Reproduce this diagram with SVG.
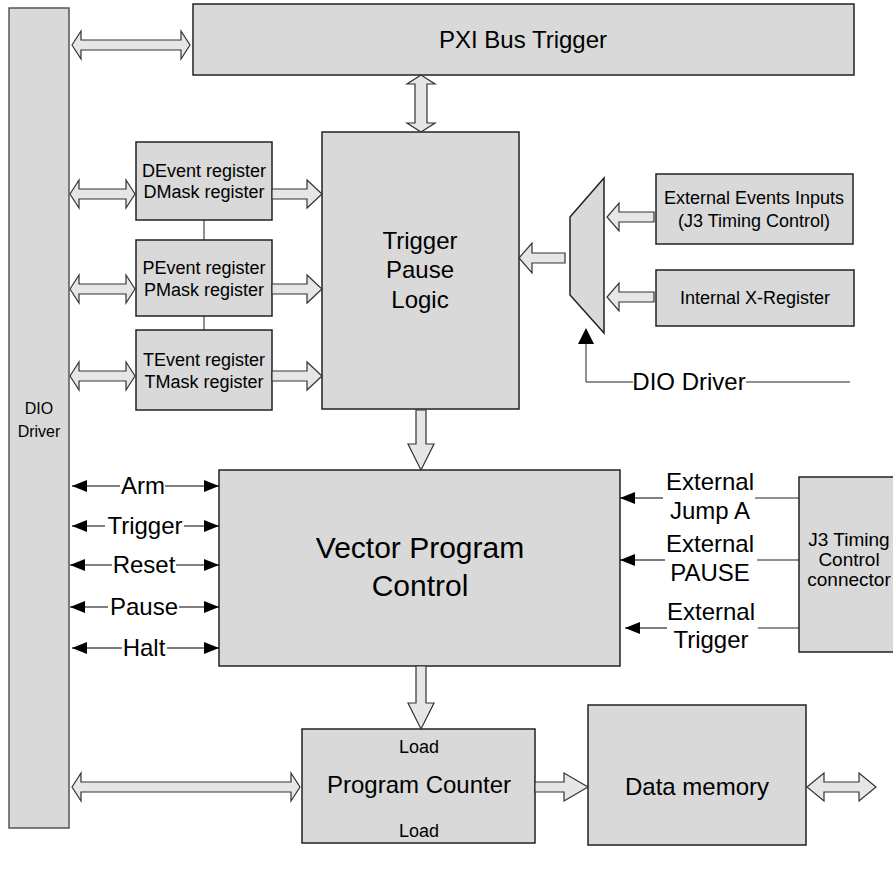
<svg xmlns="http://www.w3.org/2000/svg" width="893" height="869" viewBox="0 0 893 869">
  <defs>
    <style>
      .box { fill: #d9d9d9; stroke: #222; stroke-width: 1.5; }
      .bar { fill: #d9d9d9; stroke: #555; stroke-width: 1.5; }
      .bus { fill: #e6e6e6; stroke: #333; stroke-width: 1.2; stroke-linejoin: miter; }
      .sig { fill: none; stroke: #000; stroke-width: 1.2; }
      .thin { fill: none; stroke: #222; stroke-width: 1; }
      text { font-family: "Liberation Sans", Arial, sans-serif; fill: #000; text-anchor: middle; }
      .t24 { font-size: 24px; }
      .t18 { font-size: 18px; }
      .t30 { font-size: 30px; }
    </style>
    <marker id="tip" markerUnits="userSpaceOnUse" markerWidth="15" markerHeight="12" refX="15" refY="6" orient="auto-start-reverse">
      <path d="M0,0 L15,6 L0,12 z" fill="#000"/>
    </marker>
  </defs>

  <!-- blocks -->
  <g id="dio-driver">
    <rect class="bar" x="9" y="8" width="60" height="820"/>
    <text x="39" y="414" style="font-size:16px">DIO</text>
    <text x="39" y="437" style="font-size:16px">Driver</text>
  </g>

  <g id="pxi-bus-trigger">
    <rect class="box" x="193" y="4" width="661" height="71"/>
    <text class="t24" x="523" y="48">PXI Bus Trigger</text>
  </g>

  <g id="devent-register">
    <rect class="box" x="136" y="142" width="136" height="78"/>
    <text class="t18" x="204" y="177">DEvent register</text>
    <text class="t18" x="204" y="198">DMask register</text>
  </g>

  <g id="pevent-register">
    <rect class="box" x="136" y="240" width="136" height="76"/>
    <text class="t18" x="204" y="274">PEvent register</text>
    <text class="t18" x="204" y="296">PMask register</text>
  </g>

  <g id="tevent-register">
    <rect class="box" x="136" y="330" width="136" height="80"/>
    <text class="t18" x="204" y="366">TEvent register</text>
    <text class="t18" x="204" y="388">TMask register</text>
  </g>

  <g id="trigger-pause-logic">
    <rect class="box" x="322" y="132" width="197" height="277"/>
    <text class="t24" x="420" y="249">Trigger</text>
    <text class="t24" x="420" y="278">Pause</text>
    <text class="t24" x="420" y="308">Logic</text>
  </g>

  <g id="event-mux">
    <polygon class="box" points="570,217 604,178 604,333 570,295"/>
  </g>

  <g id="external-events-inputs">
    <rect class="box" x="656" y="174" width="197" height="70"/>
    <text class="t18" x="754" y="204">External Events Inputs</text>
    <text class="t18" x="754" y="227">(J3 Timing Control)</text>
  </g>

  <g id="internal-x-register">
    <rect class="box" x="656" y="270" width="198" height="56"/>
    <text class="t18" x="755" y="304">Internal X-Register</text>
  </g>

  <g id="vector-program-control">
    <rect class="box" x="219" y="470" width="401" height="196"/>
    <text class="t30" x="420" y="558">Vector Program</text>
    <text class="t30" x="420" y="596">Control</text>
  </g>

  <g id="j3-timing-connector">
    <rect class="box" x="799" y="477" width="100" height="175"/>
    <text x="849" y="546" style="font-size:19px">J3 Timing</text>
    <text x="849" y="566" style="font-size:19px">Control</text>
    <text x="849" y="586" style="font-size:19px">connector</text>
  </g>

  <g id="program-counter">
    <rect class="box" x="302" y="729" width="233" height="114"/>
    <text class="t18" x="419" y="753">Load</text>
    <text class="t24" x="419" y="793">Program Counter</text>
    <text class="t18" x="419" y="837">Load</text>
  </g>

  <g id="data-memory">
    <rect class="box" x="588" y="705" width="218" height="140"/>
    <text class="t24" x="697" y="795">Data memory</text>
  </g>

  <!-- connectors -->
  <g id="connectors">
    <!-- wide bus arrows -->
    <polygon class="bus" points="72,45 81,31 81,40 181,40 181,31 190,45 181,59 181,50 81,50 81,59"/>
    <polygon class="bus" points="421,75 435,84 427,84 427,123 435,123 421,132 407,123 415,123 415,84 407,84"/>
    <polygon class="bus" points="70,194 79,180 79,189 126,189 126,180 135,194 126,208 126,199 79,199 79,208"/>
    <polygon class="bus" points="70,289 79,275 79,284 126,284 126,275 135,289 126,303 126,294 79,294 79,303"/>
    <polygon class="bus" points="70,376 79,362 79,371 126,371 126,362 135,376 126,390 126,381 79,381 79,390"/>
    <polygon class="bus" points="272,189 307,189 307,180 322,194 307,208 307,199 272,199"/>
    <polygon class="bus" points="272,284 307,284 307,275 322,289 307,303 307,294 272,294"/>
    <polygon class="bus" points="272,371 307,371 307,362 322,376 307,390 307,381 272,381"/>
    <polygon class="bus" points="654,212 619,212 619,203 607,217 619,231 619,222 654,222"/>
    <polygon class="bus" points="654,292 619,292 619,283 607,297 619,311 619,302 654,302"/>
    <polygon class="bus" points="565,253 532,253 532,243 519,258 532,273 532,263 565,263"/>
    <polygon class="bus" points="416,410 426,410 426,444 434,444 421,470 408,444 416,444"/>
    <polygon class="bus" points="416,666 426,666 426,703 434,703 421,729 408,703 416,703"/>
    <polygon class="bus" points="72,787 81,773 81,782 291,782 291,773 300,787 291,801 291,792 81,792 81,801"/>
    <polygon class="bus" points="535,782 564,782 564,773 588,787 564,801 564,792 535,792"/>
    <polygon class="bus" points="807,787 824,773 824,782 859,782 859,773 876,787 859,801 859,792 824,792 824,801"/>

    <!-- register chain -->
    <line class="thin" x1="204" y1="220" x2="204" y2="240"/>
    <line class="thin" x1="204" y1="316" x2="204" y2="330"/>

    <!-- DIO Driver select line into the mux -->
    <polyline class="thin" points="633,382 586,382 586,343"/>
    <polygon points="586,328 578,344 594,344" fill="#000"/>
    <line class="thin" x1="746" y1="382" x2="850" y2="382"/>
    <text class="t24" x="689" y="390">DIO Driver</text>

    <!-- control signals between DIO Driver and Vector Program Control -->
    <line class="sig" x1="120" y1="486" x2="72" y2="486" marker-end="url(#tip)"/>
    <line class="sig" x1="165" y1="486" x2="219" y2="486" marker-end="url(#tip)"/>
    <text class="t24" x="143" y="494">Arm</text>

    <line class="sig" x1="105" y1="526" x2="72" y2="526" marker-end="url(#tip)"/>
    <line class="sig" x1="184" y1="526" x2="219" y2="526" marker-end="url(#tip)"/>
    <text class="t24" x="145" y="534">Trigger</text>

    <line class="sig" x1="112" y1="565" x2="70" y2="565" marker-end="url(#tip)"/>
    <line class="sig" x1="176" y1="565" x2="219" y2="565" marker-end="url(#tip)"/>
    <text class="t24" x="144" y="573">Reset</text>

    <line class="sig" x1="108" y1="607" x2="70" y2="607" marker-end="url(#tip)"/>
    <line class="sig" x1="179" y1="607" x2="219" y2="607" marker-end="url(#tip)"/>
    <text class="t24" x="144" y="615">Pause</text>

    <line class="sig" x1="122" y1="648" x2="72" y2="648" marker-end="url(#tip)"/>
    <line class="sig" x1="167" y1="648" x2="219" y2="648" marker-end="url(#tip)"/>
    <text class="t24" x="144" y="656">Halt</text>

    <!-- external inputs from the J3 connector -->
    <line class="sig" x1="663" y1="498" x2="620" y2="498" marker-end="url(#tip)"/>
    <line class="thin" x1="755" y1="498" x2="799" y2="498"/>
    <text class="t24" x="710" y="490">External</text>
    <text class="t24" x="710" y="519">Jump A</text>

    <line class="sig" x1="665" y1="560" x2="620" y2="560" marker-end="url(#tip)"/>
    <line class="thin" x1="757" y1="560" x2="799" y2="560"/>
    <text class="t24" x="710" y="552">External</text>
    <text class="t24" x="710" y="581">PAUSE</text>

    <line class="sig" x1="667" y1="628" x2="625" y2="628" marker-end="url(#tip)"/>
    <line class="thin" x1="758" y1="628" x2="799" y2="628"/>
    <text class="t24" x="711" y="620">External</text>
    <text class="t24" x="711" y="648">Trigger</text>
  </g>
</svg>
